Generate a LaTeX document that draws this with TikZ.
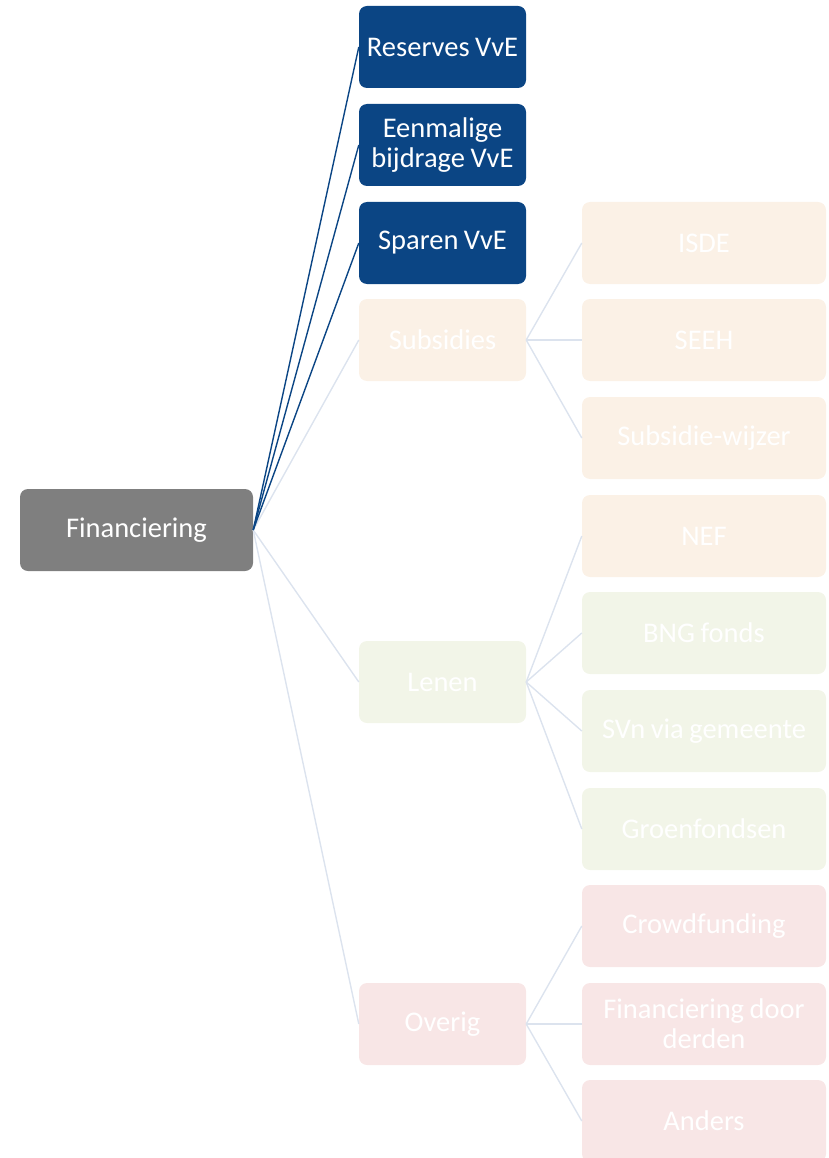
\documentclass[tikz,border=0pt]{standalone}
\usepackage{fontspec}
\setmainfont[WordSpace=0.85]{Carlito}
\usepackage{tikz}
\usetikzlibrary{positioning, calc}
\definecolor{navy}{HTML}{0B4584}
\definecolor{rootgray}{HTML}{7F7F7F}
\definecolor{subsfill}{HTML}{FBF1E6}
\definecolor{leenfill}{HTML}{F2F5E8}
\definecolor{overfill}{HTML}{F8E6E6}
\definecolor{fadeline}{HTML}{DCE3EE}

\begin{document}
\begin{tikzpicture}[x=1pt, y=-1pt,
  item/.style={rectangle, rounded corners=8pt, minimum height=82pt, inner sep=0pt,
               align=center, text=white, font=\fontsize{28.5}{30}\selectfont},
  mid/.style={item, minimum width=167pt},
  leaf/.style={item, minimum width=244pt},
  strong/.style={draw=navy, line width=1.4pt},
  faded/.style={draw=fadeline, line width=1.4pt},
]
  \useasboundingbox (0,0) rectangle (828,1158);

  \node[item, fill=rootgray, minimum width=233pt] (fin) at (136.5,530) {Financiering};

  \node[mid, fill=navy] (reserves) at (442.5,47) {Reserves VvE};
  \node[mid, fill=navy] (eenmalig) at (442.5,145) {Eenmalige\\bijdrage VvE};
  \node[mid, fill=navy] (sparen) at (442.5,243) {Sparen VvE};
  \node[mid, fill=subsfill] (subs) at (442.5,340) {Subsidies};
  \node[mid, fill=leenfill] (lenen) at (442.5,682) {Lenen};
  \node[mid, fill=overfill] (overig) at (442.5,1024) {Overig};

  \node[leaf, fill=subsfill] (isde) at (704,243) {ISDE};
  \node[leaf, fill=subsfill] (seeh) at (704,340) {SEEH};
  \node[leaf, fill=subsfill] (wijzer) at (704,438) {Subsidie-wijzer};
  \node[leaf, fill=subsfill] (nef) at (704,536) {NEF};
  \node[leaf, fill=leenfill] (bng) at (704,633) {BNG fonds};
  \node[leaf, fill=leenfill] (svn) at (704,731) {SVn via gemeente};
  \node[leaf, fill=leenfill] (groen) at (704,829) {Groenfondsen};
  \node[leaf, fill=overfill] (crowd) at (704,926) {Crowdfunding};
  \node[leaf, fill=overfill] (derden) at (704,1024) {Financiering door\\derden};
  \node[leaf, fill=overfill] (anders) at (704,1121) {Anders};

  \foreach \c in {subs, lenen, overig}
    \draw[faded] (fin.east) -- (\c.west);
  \foreach \c in {reserves, eenmalig, sparen}
    \draw[strong] (fin.east) -- (\c.west);

  \foreach \c in {isde, seeh, wijzer}
    \draw[faded] (subs.east) -- (\c.west);
  \foreach \c in {nef, bng, svn, groen}
    \draw[faded] (lenen.east) -- (\c.west);
  \foreach \c in {crowd, derden, anders}
    \draw[faded] (overig.east) -- (\c.west);

\end{tikzpicture}
\end{document}
